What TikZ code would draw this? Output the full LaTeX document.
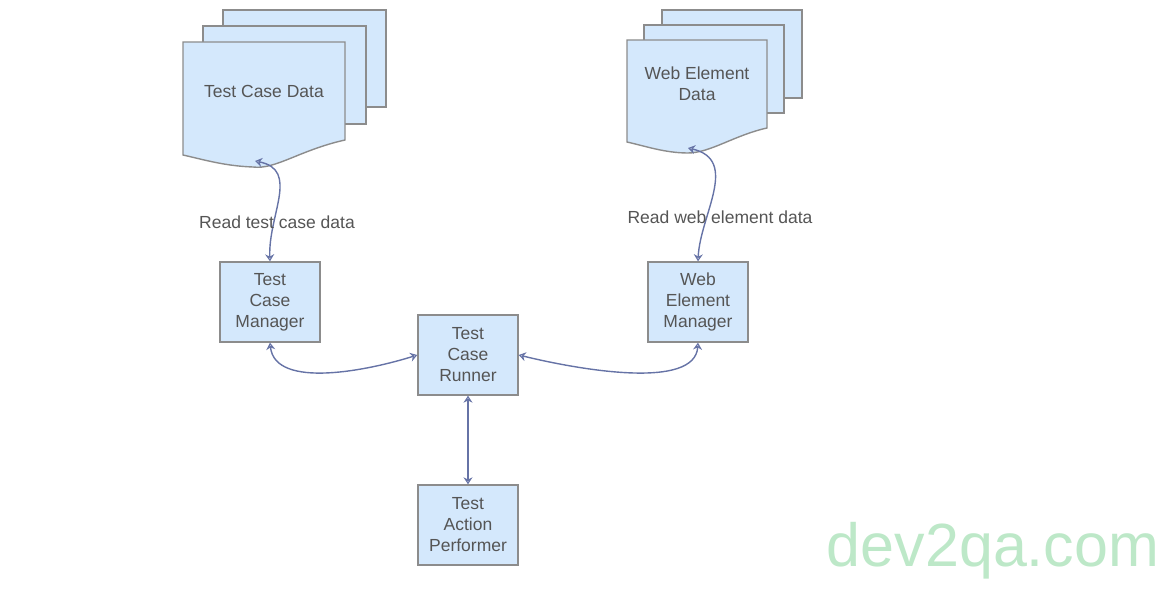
\documentclass[tikz,border=0pt]{standalone}
\usepackage{fontspec}
\setmainfont{Liberation Sans}
\usetikzlibrary{arrows.meta}
\definecolor{fillc}{HTML}{D4E8FC}
\definecolor{linec}{HTML}{8C8C8C}
\definecolor{arr}{HTML}{6673A6}
\definecolor{txt}{HTML}{555555}
\definecolor{wm}{HTML}{BDE8C8}
\begin{document}
\begin{tikzpicture}[x=1pt,y=-1pt,
  box/.style={draw=linec,fill=fillc,line width=1.4pt,minimum width=100pt,minimum height=80pt,inner sep=0pt,align=center,text=txt,font=\fontsize{17.5}{21}\selectfont},
  pg/.style={draw=linec,fill=fillc,line width=1.4pt},
  con/.style={draw=arr,line width=1.4pt,{Stealth[open,length=7pt,width=9pt]}-{Stealth[open,length=7pt,width=9pt]}},
  lbl/.style={text=txt,font=\fontsize{17.5}{21}\selectfont}]
\useasboundingbox (0,0) rectangle (1165,596);
% left document stack
\draw[pg] (223,10) rectangle (386,107);
\draw[pg] (203,26) rectangle (366,124);
\draw[pg] (183,42) -- (345,42) -- (345,140) .. controls (300,150) and (275,170) .. (253,167) .. controls (225,166) and (205,160) .. (183,155) -- cycle;
\node[lbl] (tcd) at (264,91) {Test Case Data};
\coordinate (tcdb) at (255,161);
% right document stack
\draw[pg] (662,10) rectangle (802,98);
\draw[pg] (644,25) rectangle (784,113);
\draw[pg] (627,40) -- (767,40) -- (767,128) .. controls (735,135) and (710,153) .. (688,153) .. controls (665,153) and (645,146) .. (627,142) -- cycle;
\node[lbl] (wed) at (697,84) [align=center] {Web Element\\Data};
\coordinate (wedb) at (688,148);
% boxes
\node[box] (tcm) at (270,302) {Test\\Case\\Manager};
\node[box] (tcr) at (468,355) {Test\\Case\\Runner};
\node[box] (wem) at (698,302) {Web\\Element\\Manager};
\node[box] (tap) at (468,525) {Test\\Action\\Performer};
% connectors
\draw[con] (tcdb) .. controls (300,170) and (268,215) .. (tcm.north);
\draw[con] (wedb) .. controls (740,160) and (700,215) .. (wem.north);
\draw[con] (tcm.south) .. controls (275,390) and (370,370) .. (tcr.west);
\draw[con] (wem.south) .. controls (695,390) and (580,370) .. (tcr.east);
\draw[con] (tcr.south) -- (tap.north);
% labels
\node[lbl] (l1) at (277,222) {Read test case data};
\node[lbl] (l2) at (720,217) {Read web element data};
\node[text=wm,font=\fontsize{61}{66}\selectfont] (wmk) at (993,551) {dev2qa.com};
\end{tikzpicture}
\end{document}
